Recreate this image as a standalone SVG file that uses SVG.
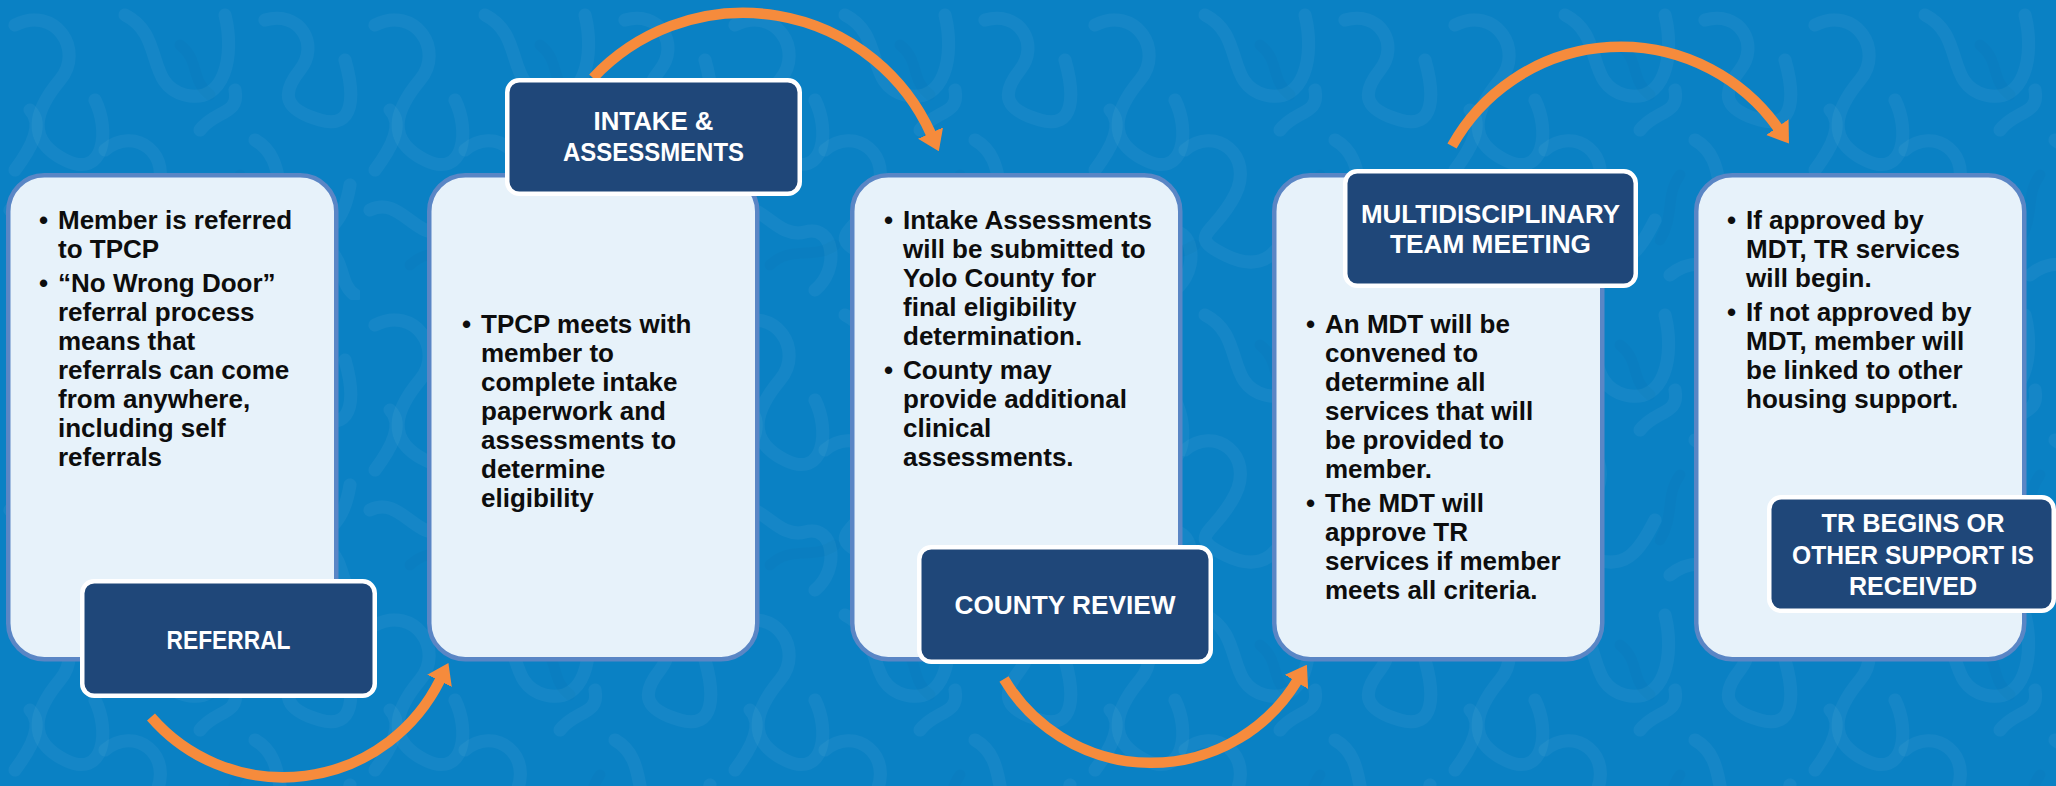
<svg xmlns="http://www.w3.org/2000/svg" width="2056" height="786" viewBox="0 0 2056 786">
  <defs>
    <pattern id="squiggle" x="0" y="0" width="360" height="300" patternUnits="userSpaceOnUse">
      <g fill="none" stroke="#ffffff" stroke-opacity="0.045" stroke-width="13" stroke-linecap="round" stroke-linejoin="round">
        <path d="M15,25 C55,5 85,50 60,80 S25,140 65,160 S110,130 95,100"/>
        <path d="M125,15 C165,35 145,85 185,95 S235,55 225,15"/>
        <path d="M105,150 C135,125 175,155 155,195 S105,235 145,255 S200,250 215,220"/>
        <path d="M255,140 C290,160 270,205 300,225 S345,215 350,185"/>
        <path d="M10,210 C40,195 55,240 85,232 S120,270 95,290"/>
        <path d="M265,20 C300,10 320,45 300,70 S285,110 320,120 S355,95 345,60"/>
        <path d="M200,130 C215,110 240,115 235,90"/>
        <path d="M30,110 C45,125 30,150 15,170"/>
        <path d="M230,275 C255,255 285,265 300,290"/>
        <path d="M330,250 C345,265 340,285 355,295"/>
      </g>
      <g fill="none" stroke="#003a70" stroke-opacity="0.045" stroke-width="11" stroke-linecap="round">
        <path d="M180,45 C200,60 190,80 210,95"/>
        <path d="M50,265 C70,245 95,260 115,245"/>
        <path d="M240,175 C225,195 235,215 220,240"/>
      </g>
    </pattern>
    <marker id="arrow" markerUnits="userSpaceOnUse" markerWidth="20" markerHeight="28" viewBox="0 0 19 26" refX="1" refY="13" orient="auto">
      <path d="M0,0 L19,13 L0,26 Z" fill="#f68b3c"/>
    </marker>
    <style>
      .card { fill: #e7f2fa; stroke: #5a86c5; stroke-width: 4.5; }
      .label { fill: #1f4779; stroke: #ffffff; stroke-width: 4.5; }
      .body { font-family: "Liberation Sans", Arial, sans-serif; font-weight: bold; font-size: 26px; fill: #0d0d0d; }
      .head { font-family: "Liberation Sans", Arial, sans-serif; font-weight: bold; font-size: 25.5px; fill: #ffffff; text-anchor: middle; }
      .arc { fill: none; stroke: #f68b3c; stroke-width: 10.5; stroke-linecap: butt; marker-end: url(#arrow); }
    </style>
  </defs>

  <rect x="0" y="0" width="2056" height="786" fill="#0a81c4"/>
  <rect x="0" y="0" width="2056" height="786" fill="url(#squiggle)"/>

  <g id="connectors">
    <path class="arc" d="M151,717 A175,175 0 0 0 440,680"/>
    <path class="arc" d="M593,78 A206,206 0 0 1 931,134"/>
    <path class="arc" d="M1004,679 A171,171 0 0 0 1297,681"/>
    <path class="arc" d="M1452,146 A193,193 0 0 1 1778,128"/>
  </g>

  <g id="step-referral">
    <rect class="card" x="8.25" y="175.25" width="328" height="484" rx="36"/>
    <text class="body">
      <tspan x="39" y="229">•</tspan>
      <tspan x="39" y="292">•</tspan>
    </text>
    <text class="body">
      <tspan x="58" y="229">Member is referred</tspan>
      <tspan x="58" y="258">to TPCP</tspan>
      <tspan x="58" y="292">“No Wrong Door”</tspan>
      <tspan x="58" y="321">referral process</tspan>
      <tspan x="58" y="350">means that</tspan>
      <tspan x="58" y="379">referrals can come</tspan>
      <tspan x="58" y="408">from anywhere,</tspan>
      <tspan x="58" y="437">including self</tspan>
      <tspan x="58" y="466">referrals</tspan>
    </text>
    <rect class="label" x="82.25" y="581.25" width="292.5" height="114.5" rx="12"/>
    <text class="head" x="228.5" y="649" font-size="27.5" textLength="124" lengthAdjust="spacingAndGlyphs">REFERRAL</text>
  </g>

  <g id="step-intake">
    <rect class="card" x="429.25" y="175.25" width="328" height="484" rx="36"/>
    <text class="body"><tspan x="462" y="333">•</tspan></text>
    <text class="body">
      <tspan x="481" y="333">TPCP meets with</tspan>
      <tspan x="481" y="362">member to</tspan>
      <tspan x="481" y="391">complete intake</tspan>
      <tspan x="481" y="420">paperwork and</tspan>
      <tspan x="481" y="449">assessments to</tspan>
      <tspan x="481" y="478">determine</tspan>
      <tspan x="481" y="507">eligibility</tspan>
    </text>
    <rect class="label" x="507.25" y="80.25" width="292.5" height="113.5" rx="12"/>
    <text class="head" x="653.5" y="130" textLength="120" lengthAdjust="spacingAndGlyphs">INTAKE &amp;</text>
    <text class="head" x="653.5" y="161" textLength="181" lengthAdjust="spacingAndGlyphs">ASSESSMENTS</text>
  </g>

  <g id="step-county">
    <rect class="card" x="852.25" y="175.25" width="328" height="484" rx="36"/>
    <text class="body">
      <tspan x="884" y="229">•</tspan>
      <tspan x="884" y="379">•</tspan>
    </text>
    <text class="body">
      <tspan x="903" y="229">Intake Assessments</tspan>
      <tspan x="903" y="258">will be submitted to</tspan>
      <tspan x="903" y="287">Yolo County for</tspan>
      <tspan x="903" y="316">final eligibility</tspan>
      <tspan x="903" y="345">determination.</tspan>
      <tspan x="903" y="379">County may</tspan>
      <tspan x="903" y="408">provide additional</tspan>
      <tspan x="903" y="437">clinical</tspan>
      <tspan x="903" y="466">assessments.</tspan>
    </text>
    <rect class="label" x="919.25" y="547.25" width="291.5" height="114.5" rx="12"/>
    <text class="head" x="1065" y="614" textLength="221" lengthAdjust="spacingAndGlyphs">COUNTY REVIEW</text>
  </g>

  <g id="step-mdt">
    <rect class="card" x="1274.25" y="175.25" width="328" height="484" rx="36"/>
    <text class="body">
      <tspan x="1306" y="333">•</tspan>
      <tspan x="1306" y="512">•</tspan>
    </text>
    <text class="body">
      <tspan x="1325" y="333">An MDT will be</tspan>
      <tspan x="1325" y="362">convened to</tspan>
      <tspan x="1325" y="391">determine all</tspan>
      <tspan x="1325" y="420">services that will</tspan>
      <tspan x="1325" y="449">be provided to</tspan>
      <tspan x="1325" y="478">member.</tspan>
      <tspan x="1325" y="512">The MDT will</tspan>
      <tspan x="1325" y="541">approve TR</tspan>
      <tspan x="1325" y="570">services if member</tspan>
      <tspan x="1325" y="599">meets all criteria.</tspan>
    </text>
    <rect class="label" x="1345.25" y="171.25" width="290.5" height="114.5" rx="12"/>
    <text class="head" x="1490.5" y="223" textLength="259" lengthAdjust="spacingAndGlyphs">MULTIDISCIPLINARY</text>
    <text class="head" x="1490.5" y="253" textLength="201" lengthAdjust="spacingAndGlyphs">TEAM MEETING</text>
  </g>

  <g id="step-tr">
    <rect class="card" x="1696.25" y="175.25" width="328" height="484" rx="36"/>
    <text class="body">
      <tspan x="1727" y="229">•</tspan>
      <tspan x="1727" y="321">•</tspan>
    </text>
    <text class="body">
      <tspan x="1746" y="229">If approved by</tspan>
      <tspan x="1746" y="258">MDT, TR services</tspan>
      <tspan x="1746" y="287">will begin.</tspan>
      <tspan x="1746" y="321">If not approved by</tspan>
      <tspan x="1746" y="350">MDT, member will</tspan>
      <tspan x="1746" y="379">be linked to other</tspan>
      <tspan x="1746" y="408">housing support.</tspan>
    </text>
    <rect class="label" x="1769.25" y="497.25" width="284.5" height="113.5" rx="12"/>
    <text class="head" x="1913" y="532" textLength="183" lengthAdjust="spacingAndGlyphs">TR BEGINS OR</text>
    <text class="head" x="1913" y="564" textLength="242" lengthAdjust="spacingAndGlyphs">OTHER SUPPORT IS</text>
    <text class="head" x="1913" y="595" textLength="128" lengthAdjust="spacingAndGlyphs">RECEIVED</text>
  </g>
</svg>
